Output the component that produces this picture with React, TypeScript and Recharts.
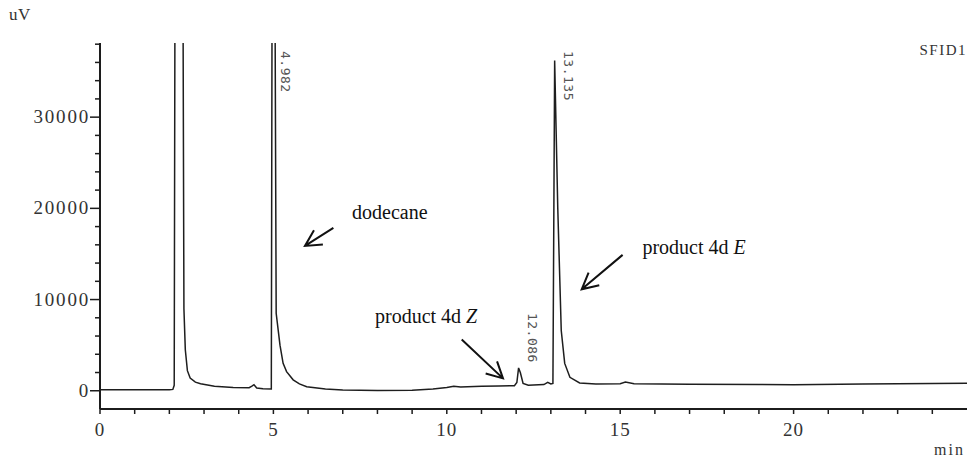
import { LineChart, Line, XAxis, YAxis, ReferenceDot, ReferenceLine } from "recharts";

// retention time (min) / detector signal (uV)
const TIME_MIN = [
  0, 1, 2, 2.1, 2.14, 2.17, 2.38, 2.42, 2.46, 2.52, 2.6, 2.75, 2.9, 3.3, 3.84, 4.3, 4.38, 4.44, 4.52, 4.7,
  4.94, 4.97, 5.03, 5.08, 5.19, 5.28, 5.38, 5.57, 5.75, 5.96, 6.5, 7.0, 8.0, 9.0, 9.6, 10.0, 10.2, 10.4, 11.0,
  11.5, 11.95, 12.02, 12.07, 12.12, 12.2, 12.35, 12.8, 12.91, 13.0, 13.06, 13.11, 13.2, 13.3, 13.4, 13.55,
  13.83, 14.3, 15.0, 15.15, 15.4, 17, 19, 20, 22, 24, 25,
];
const SIGNAL_UV = [
  100, 100, 110, 150, 600, 60000, 60000, 9000, 4500, 2200, 1400, 950, 770, 500, 360, 330, 500, 660, 300, 220,
  200, 60000, 60000, 8500, 5000, 3000, 2100, 1200, 750, 440, 200, 80, 30, 60, 190, 350, 500, 420, 500,
  520, 560, 900, 2500, 2000, 800, 600, 680, 920, 750, 800, 36200, 20000, 6600, 3000, 1470,
  850, 750, 780, 950, 780, 720, 700, 660, 750, 800, 830,
];

const PEAK_RT = [4.982, 12.086, 13.135];
const PEAK_HEIGHT = [60000, 2500, 36200];

const X_TICKS = [0, 1, 2, 3, 4, 5, 6, 7, 8, 9, 10, 11, 12, 13, 14, 15, 16, 17, 18, 19, 20, 21, 22, 23, 24];
const Y_TICKS = [
  0, 2000, 4000, 6000, 8000, 10000, 12000, 14000, 16000, 18000, 20000, 22000, 24000, 26000, 28000, 30000,
  32000, 34000, 36000, 38000,
];

const X_DOMAIN = [0, 25];
const Y_DOMAIN = [-2000, 38130];

// annotation text + arrow, placed in data units
const NOTES = [
  { parts: [{ s: "dodecane" }], at: [7.27, 18850], from: [6.73, 17860], to: [5.91, 15880] },
  { parts: [{ s: "product 4d " }, { s: "Z", i: true }], at: [7.93, 7380], from: [10.43, 5620], to: [11.62, 1360] },
  { parts: [{ s: "product 4d " }, { s: "E", i: true }], at: [15.64, 15010], from: [15.07, 14900], to: [13.89, 11130] },
];

const data = TIME_MIN.map((t, i) => ({ t, v: SIGNAL_UV[i] }));

const AXIS = "#1c1c1c";
const SERIF = "'Liberation Serif', 'Times New Roman', serif";
const MONO = "'DejaVu Sans Mono', monospace";

function XTick(props: any) {
  const { x, y, payload } = props;
  const major = payload.value % 5 === 0;
  return (
    <g>
      <line x1={x} x2={x} y1={y} y2={y + 5} stroke={AXIS} strokeWidth={1.5} />
      {major && (
        <text x={x} y={y + 27} textAnchor="middle" fontFamily={SERIF} fontSize={19} letterSpacing={1} fill="#333">
          {payload.value}
        </text>
      )}
    </g>
  );
}

function YTick(props: any) {
  const { x, y, payload } = props;
  const major = payload.value % 10000 === 0;
  return (
    <g>
      <line x1={x - (major ? 10 : 5)} x2={x} y1={y} y2={y} stroke={AXIS} strokeWidth={1.5} />
      {major && (
        <text x={x - 10} y={y + 6} textAnchor="end" fontFamily={SERIF} fontSize={19} letterSpacing={1.8} fill="#333">
          {payload.value}
        </text>
      )}
    </g>
  );
}

function Arrow(props: any) {
  const { x1, y1, x2, y2 } = props;
  const a = Math.atan2(y1 - y2, x1 - x2);
  const len = 18;
  const spread = 0.48;
  const h1 = [x2 + len * Math.cos(a + spread), y2 + len * Math.sin(a + spread)];
  const h2 = [x2 + len * Math.cos(a - spread), y2 + len * Math.sin(a - spread)];
  return (
    <path
      d={`M${x1},${y1} L${x2},${y2} M${h1[0]},${h1[1]} L${x2},${y2} L${h2[0]},${h2[1]}`}
      stroke="#111"
      strokeWidth={2}
      fill="none"
    />
  );
}

export default function App() {
  return (
    <div style={{ position: "absolute", left: 0, top: 0, width: 971, height: 464, background: "#fff" }}>
      <LineChart width={971} height={464} data={data} margin={{ top: 43, right: 4, bottom: 0, left: 0 }}>
        <XAxis
          dataKey="t"
          type="number"
          domain={X_DOMAIN}
          allowDataOverflow
          ticks={X_TICKS}
          interval={0}
          tick={<XTick />}
          tickLine={false}
          tickSize={0}
          tickMargin={0}
          height={55}
          axisLine={{ stroke: AXIS, strokeWidth: 2 }}
        />
        <XAxis xAxisId="top" orientation="top" type="number" domain={X_DOMAIN} height={0} tick={false} tickLine={false} axisLine={{ stroke: "#444", strokeWidth: 1.6 }} />
        <YAxis
          type="number"
          domain={Y_DOMAIN}
          allowDataOverflow
          ticks={Y_TICKS}
          interval={0}
          tick={<YTick />}
          tickLine={false}
          tickSize={0}
          tickMargin={0}
          width={100}
          axisLine={{ stroke: AXIS, strokeWidth: 2 }}
        />
        <YAxis yAxisId="right" orientation="right" type="number" domain={Y_DOMAIN} width={0} tick={false} tickLine={false} axisLine={{ stroke: "#444", strokeWidth: 1.6 }} />

        <Line type="linear" dataKey="v" stroke="#1e1e1e" strokeWidth={1.5} dot={false} isAnimationActive={false} />

        {PEAK_RT.map((rt, i) => (
          <ReferenceDot
            key={rt}
            x={rt}
            y={Math.min(PEAK_HEIGHT[i], Y_DOMAIN[1])}
            r={0}
            shape={(p: any) => {
              const top = Math.max(51, p.cy - 55);
              return (
                <text
                  transform={`translate(${p.cx + 13},${top}) rotate(90)`}
                  dominantBaseline="central"
                  fontFamily={MONO}
                  fontSize={13}
                  letterSpacing={0.5}
                  fill="#555"
                >
                  {rt.toFixed(3)}
                </text>
              );
            }}
          />
        ))}

        {NOTES.map((n, i) => (
          <ReferenceLine
            key={`arrow-${i}`}
            segment={[
              { x: n.from[0], y: n.from[1] },
              { x: n.to[0], y: n.to[1] },
            ]}
            shape={<Arrow />}
          />
        ))}
        {NOTES.map((n, i) => (
          <ReferenceDot
            key={`note-${i}`}
            x={n.at[0]}
            y={n.at[1]}
            r={0}
            shape={(p: any) => (
              <text x={p.cx} y={p.cy} fontFamily={SERIF} fontSize={20} fill="#111">
                {n.parts.map((part: any, j: number) => (
                  <tspan key={j} fontStyle={part.i ? "italic" : "normal"}>
                    {part.s}
                  </tspan>
                ))}
              </text>
            )}
          />
        ))}
      </LineChart>
      <div style={{ position: "absolute", left: 9, top: 5, fontFamily: SERIF, fontSize: 17, color: "#333", letterSpacing: 0.5 }}>uV</div>
      <div style={{ position: "absolute", right: 4, top: 42, fontFamily: SERIF, fontSize: 15, color: "#333", letterSpacing: 1.5 }}>SFID1</div>
      <div style={{ position: "absolute", right: 6, top: 441, fontFamily: SERIF, fontSize: 16, color: "#333", letterSpacing: 2 }}>min</div>
    </div>
  );
}
